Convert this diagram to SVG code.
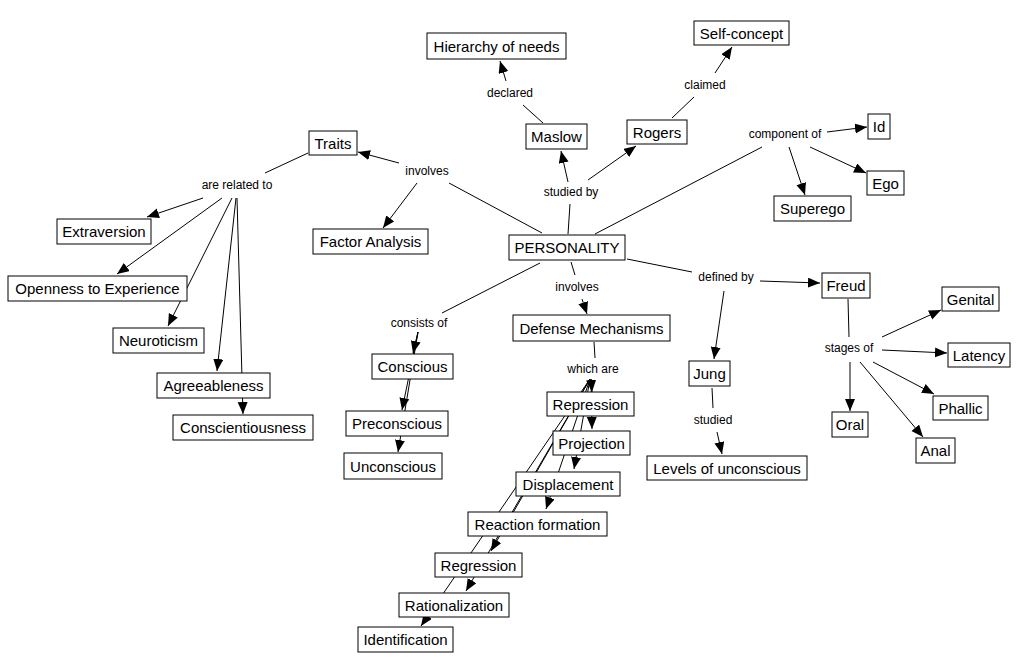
<svg xmlns="http://www.w3.org/2000/svg" width="1027" height="672" viewBox="0 0 1027 672">
<style>
.n rect{fill:#fff;stroke:#000;stroke-width:1}
.n text{font-family:"Liberation Sans",Arial,sans-serif;font-size:15px;fill:#000;text-anchor:middle}
.lp{font-family:"Liberation Sans",Arial,sans-serif;font-size:12px;fill:#000;text-anchor:middle}
#connectors line{stroke:#000;stroke-width:1;fill:none}
#connectors line.a{marker-end:url(#ah)}
</style>
<defs>
<marker id="ah" markerUnits="userSpaceOnUse" markerWidth="13" markerHeight="11" refX="12" refY="5" orient="auto">
<path d="M0,0 L12,5 L0,10 z" fill="#000"/>
</marker>
</defs>
<rect x="0" y="0" width="1027" height="672" fill="#fff"/>
<g id="connectors">
<line x1="543" y1="123" x2="523" y2="105"/>
<line class="a" x1="506" y1="81" x2="500" y2="61"/>
<line x1="672" y1="118" x2="694" y2="97"/>
<line class="a" x1="715" y1="73" x2="732" y2="47"/>
<line x1="542" y1="233" x2="449" y2="183"/>
<line class="a" x1="399" y1="163" x2="358" y2="152"/>
<line class="a" x1="417" y1="183" x2="383" y2="228"/>
<line x1="568" y1="234" x2="570" y2="204"/>
<line class="a" x1="568" y1="182" x2="561" y2="151"/>
<line class="a" x1="588" y1="180" x2="636" y2="146"/>
<line x1="595" y1="234" x2="762" y2="147"/>
<line class="a" x1="827" y1="132" x2="867" y2="127"/>
<line class="a" x1="810" y1="147" x2="866" y2="173"/>
<line class="a" x1="789" y1="147" x2="805" y2="195"/>
<line x1="308" y1="153" x2="265" y2="173"/>
<line class="a" x1="203" y1="198" x2="147" y2="217"/>
<line class="a" x1="222" y1="198" x2="117" y2="274"/>
<line class="a" x1="232" y1="198" x2="168" y2="326"/>
<line class="a" x1="236" y1="198" x2="217" y2="371"/>
<line class="a" x1="237" y1="198" x2="243" y2="414"/>
<line x1="627" y1="259" x2="692" y2="272"/>
<line class="a" x1="760" y1="281" x2="820" y2="283"/>
<line class="a" x1="724" y1="291" x2="714" y2="359"/>
<line x1="712" y1="388" x2="713" y2="408"/>
<line class="a" x1="717" y1="432" x2="722" y2="454"/>
<line x1="848" y1="299" x2="849" y2="337"/>
<line class="a" x1="882" y1="337" x2="941" y2="310"/>
<line class="a" x1="882" y1="350" x2="947" y2="353"/>
<line class="a" x1="873" y1="362" x2="934" y2="394"/>
<line class="a" x1="860" y1="362" x2="923" y2="437"/>
<line class="a" x1="850" y1="362" x2="850" y2="411"/>
<line x1="540" y1="263" x2="442" y2="313"/>
<line class="a" x1="418" y1="332" x2="413" y2="353"/>
<line class="a" x1="418" y1="332" x2="402" y2="410"/>
<line class="a" x1="418" y1="332" x2="398" y2="452"/>
<line x1="571" y1="262" x2="575" y2="275"/>
<line class="a" x1="582" y1="299" x2="587" y2="314"/>
<line x1="594" y1="342" x2="595" y2="358"/>
<line class="a" x1="591" y1="379" x2="592" y2="392"/>
<line class="a" x1="591" y1="379" x2="592" y2="429"/>
<line class="a" x1="590" y1="379" x2="574" y2="469"/>
<line class="a" x1="590" y1="379" x2="546" y2="509"/>
<line class="a" x1="590" y1="379" x2="491" y2="551"/>
<line class="a" x1="590" y1="379" x2="466" y2="591"/>
<line class="a" x1="590" y1="379" x2="421" y2="626"/>
</g>
<g id="labels">
<text class="lp" x="510" y="97">declared</text>
<text class="lp" x="705" y="89">claimed</text>
<text class="lp" x="427" y="175">involves</text>
<text class="lp" x="571" y="196">studied by</text>
<text class="lp" x="785" y="138">component of</text>
<text class="lp" x="237" y="189">are related to</text>
<text class="lp" x="577" y="291">involves</text>
<text class="lp" x="726" y="281">defined by</text>
<text class="lp" x="419" y="327">consists of</text>
<text class="lp" x="593" y="373">which are</text>
<text class="lp" x="713" y="424">studied</text>
<text class="lp" x="849" y="352">stages of</text>
</g>
<g id="hierarchy" class="n"><rect x="427" y="33" width="139" height="26"/><text x="496.5" y="51.5">Hierarchy of needs</text></g>
<g id="selfconcept" class="n"><rect x="694" y="21" width="95" height="24"/><text x="741.5" y="38.5">Self-concept</text></g>
<g id="maslow" class="n"><rect x="526" y="124" width="61" height="25"/><text x="556.5" y="142">Maslow</text></g>
<g id="rogers" class="n"><rect x="627" y="120" width="60" height="24"/><text x="657" y="137.5">Rogers</text></g>
<g id="traits" class="n"><rect x="309" y="131" width="48" height="24"/><text x="333" y="148.5">Traits</text></g>
<g id="id" class="n"><rect x="868" y="114" width="22" height="25"/><text x="879" y="132">Id</text></g>
<g id="ego" class="n"><rect x="867" y="171" width="37" height="24"/><text x="885.5" y="188.5">Ego</text></g>
<g id="superego" class="n"><rect x="774" y="196" width="77" height="25"/><text x="812.5" y="214">Superego</text></g>
<g id="factor" class="n"><rect x="313" y="229" width="115" height="25"/><text x="370.5" y="247">Factor Analysis</text></g>
<g id="personality" class="n"><rect x="509" y="235" width="116" height="25"/><text x="567" y="253">PERSONALITY</text></g>
<g id="extraversion" class="n"><rect x="57" y="219" width="94" height="25"/><text x="104" y="237">Extraversion</text></g>
<g id="openness" class="n"><rect x="8" y="276" width="179" height="25"/><text x="97.5" y="294">Openness to Experience</text></g>
<g id="neuroticism" class="n"><rect x="113" y="328" width="91" height="25"/><text x="158.5" y="346">Neuroticism</text></g>
<g id="agreeableness" class="n"><rect x="157" y="373" width="113" height="25"/><text x="213.5" y="391">Agreeableness</text></g>
<g id="conscientiousness" class="n"><rect x="173" y="415" width="140" height="25"/><text x="243" y="433">Conscientiousness</text></g>
<g id="freud" class="n"><rect x="822" y="273" width="48" height="25"/><text x="846" y="291">Freud</text></g>
<g id="genital" class="n"><rect x="942" y="287" width="57" height="24"/><text x="970.5" y="304.5">Genital</text></g>
<g id="latency" class="n"><rect x="948" y="343" width="62" height="24"/><text x="979" y="360.5">Latency</text></g>
<g id="phallic" class="n"><rect x="933" y="396" width="55" height="24"/><text x="960.5" y="413.5">Phallic</text></g>
<g id="anal" class="n"><rect x="916" y="438" width="39" height="25"/><text x="935.5" y="456">Anal</text></g>
<g id="oral" class="n"><rect x="832" y="412" width="36" height="25"/><text x="850" y="430">Oral</text></g>
<g id="jung" class="n"><rect x="689" y="361" width="41" height="25"/><text x="709.5" y="379">Jung</text></g>
<g id="levels" class="n"><rect x="647" y="456" width="160" height="24"/><text x="727" y="473.5">Levels of unconscious</text></g>
<g id="defense" class="n"><rect x="513" y="315" width="157" height="26"/><text x="591.5" y="333.5">Defense Mechanisms</text></g>
<g id="conscious" class="n"><rect x="372" y="354" width="81" height="25"/><text x="412.5" y="372">Conscious</text></g>
<g id="preconscious" class="n"><rect x="346" y="411" width="102" height="25"/><text x="397" y="429">Preconscious</text></g>
<g id="unconscious" class="n"><rect x="344" y="453" width="98" height="26"/><text x="393" y="471.5">Unconscious</text></g>
<g id="repression" class="n"><rect x="547" y="392" width="87" height="24"/><text x="590.5" y="409.5">Repression</text></g>
<g id="projection" class="n"><rect x="553" y="431" width="77" height="24"/><text x="591.5" y="448.5">Projection</text></g>
<g id="displacement" class="n"><rect x="516" y="472" width="104" height="24"/><text x="568" y="489.5">Displacement</text></g>
<g id="reaction" class="n"><rect x="468" y="512" width="139" height="24"/><text x="537.5" y="529.5">Reaction formation</text></g>
<g id="regression" class="n"><rect x="435" y="553" width="87" height="24"/><text x="478.5" y="570.5">Regression</text></g>
<g id="rationalization" class="n"><rect x="399" y="593" width="110" height="24"/><text x="454" y="610.5">Rationalization</text></g>
<g id="identification" class="n"><rect x="358" y="627" width="95" height="25"/><text x="405.5" y="645">Identification</text></g>
</svg>
